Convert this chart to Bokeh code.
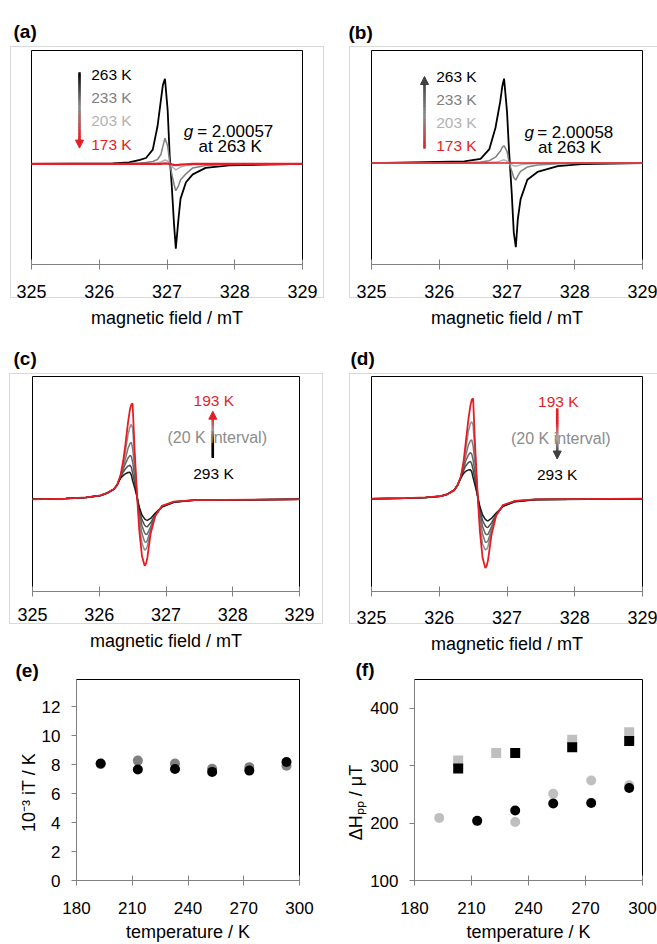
import math
from bokeh.plotting import figure
from bokeh.models import Range1d, FixedTicker, Label, Arrow, NormalHead
from bokeh.layouts import column, row
from bokeh.embed import file_html
from bokeh.resources import INLINE

FONT = "Liberation Sans"
RED = "#e41e26"
NB = "\u00a0"

# ----------------------------- data -----------------------------
FIELD_TICKS = [325, 326, 327, 328, 329]
TEMP_TICKS = [180, 210, 240, 270, 300]
E_YTICKS = [0, 2, 4, 6, 8, 10, 12]
F_YTICKS = [100, 200, 300, 400]

# (a) EPR spectra on cooling (arbitrary intensity units)
A_FIELD = [325.0, 326.2, 326.44, 326.6, 326.69, 326.79, 326.86, 326.91, 326.94, 326.97, 327.01,
           327.04, 327.07, 327.105, 327.13, 327.17, 327.2, 327.28, 327.38, 327.57, 327.92, 329.0]
A_263 = [0, 0.5, 1.5, 4, 6, 14.5, 38, 64.5, 80, 86, 54, 8, -22, -62, -85.5, -55, -35, -18.5, -10.5, -4, -1.5, 0]
A_233 = [0, 0, 0.5, 1, 1.5, 2.5, 4.5, 9.5, 18, 26, 18, 1.5, -10, -21, -27, -22, -16, -10, -4, -1.5, -0.5, 0]
A_203 = [0, 0, 0, 0, 0.3, 0.5, 1, 2, 3, 4, 3, 0.5, -2, -4.5, -6, -4.5, -3, -1.5, -0.7, -0.3, 0, 0]
A_173 = [0, 0, 0, 0, 0, 0, 0, 0, 0.3, 0.5, 0.3, 0, -0.5, -1, -1.2, -1, -0.6, -0.3, 0, 0, 0, 0]

# (b) EPR spectra on heating
B_FIELD = [325.0, 326.37, 326.61, 326.74, 326.83, 326.9, 326.93, 326.957, 327.0, 327.03, 327.07,
           327.1, 327.13, 327.16, 327.2, 327.3, 327.45, 327.75, 328.1, 329.0]
B_263 = [0, 1.7, 4.3, 14.3, 36, 62.7, 78, 86, 52.7, 12.7, -30.7, -70.7, -85.7, -57, -37, -17, -9, -3, -1, 0]
B_233 = [0, 0.3, 1, 2.5, 6, 12, 16, 17.7, 12, 1, -8, -15, -17.3, -13, -8.5, -4, -2, -0.7, -0.2, 0]
B_203 = [0, 0, 0.2, 0.5, 1, 2, 3, 3.3, 2, 0.3, -1.5, -2.8, -3.3, -2.6, -1.8, -0.8, -0.4, -0.1, 0, 0]
B_173 = [0] * 20

# (c) EPR spectra 293 K -> 193 K
C_FIELD = [325.0, 325.5, 325.8, 326.02, 326.12, 326.22, 326.27, 326.32, 326.36, 326.39, 326.43, 326.46, 326.48,
           326.50, 326.53, 326.57, 326.60, 326.64, 326.68, 326.70, 326.72, 326.77, 326.84, 326.94, 327.12, 327.42, 329.0]
C_193 = [0, 0.8, 2, 4, 6.5, 10.5, 15, 25, 40, 55, 78, 92, 97, 98, 50, 0, -32, -58, -68, -66, -60, -35, -16.7, -6.7, -2.3, -0.7, 0]
C_213 = [0, 0.8, 2, 4, 6.5, 10.5, 15, 24.5, 36, 48, 66, 74, 76.7, 73, 42, 0.5, -25, -45, -52, -51, -48, -33, -16.5, -6.8, -2.4, -0.7, 0]
C_233 = [0, 0.8, 2, 4, 6.5, 10.5, 15, 24, 33, 41, 52, 57, 58.4, 52, 33, 1, -19, -35, -43.5, -44, -42, -31, -16.3, -7, -2.5, -0.8, 0]
C_253 = [0, 0.8, 2, 4, 6.5, 10.5, 15, 23.5, 31, 36, 42, 45, 44, 38, 24, 1, -14, -27, -34.5, -36, -35.5, -28, -16, -7.3, -2.6, -0.8, 0]
C_273 = [0, 0.8, 2, 4, 6.5, 10.5, 15, 23, 28, 31, 34, 35, 33, 27, 17, 1, -11, -21, -26.5, -27.8, -28, -24, -15.5, -7.5, -2.8, -0.9, 0]
C_293 = [0, 0.8, 2, 4, 6.5, 10.5, 15, 21.7, 24.5, 26, 27.5, 27.7, 25, 19, 12, 1.5, -8, -16, -20, -21, -21.5, -19.5, -14, -7.8, -3, -1, 0]

# (d) EPR spectra 193 K -> 293 K
D_FIELD = [325.0, 325.5, 325.8, 326.02, 326.12, 326.22, 326.27, 326.32, 326.36, 326.39, 326.43, 326.46, 326.48,
           326.50, 326.53, 326.57, 326.60, 326.64, 326.68, 326.70, 326.72, 326.77, 326.84, 326.94, 327.12, 327.42, 329.0]
D_193 = [0, 0.5, 1.2, 2.5, 4.5, 8.5, 13.5, 22.6, 38, 56, 80, 94, 100, 101, 52, 0, -33, -60, -70, -68, -62, -37, -17, -6.5, -2.2, -0.7, 0]
D_213 = [0, 0.5, 1.2, 2.5, 4.5, 8.5, 13.5, 22.4, 35, 49, 68, 76, 77.6, 74, 43, 0.5, -26, -46, -51.7, -51, -48, -33.5, -16.7, -6.9, -2.4, -0.7, 0]
D_233 = [0, 0.5, 1.2, 2.5, 4.5, 8.5, 13.5, 22.2, 33, 43, 54, 58.5, 59.3, 53, 34, 1, -19.5, -36, -44, -44, -42.5, -31.5, -16.5, -7.1, -2.5, -0.8, 0]
D_253 = [0, 0.5, 1.2, 2.5, 4.5, 8.5, 13.5, 22, 31, 38, 44, 46.6, 45, 39, 25, 1, -15, -28, -35.5, -36.4, -36, -28.5, -16.3, -7.4, -2.7, -0.8, 0]
D_273 = [0, 0.5, 1.2, 2.5, 4.5, 8.5, 13.5, 21.5, 28.5, 33, 36.5, 37.6, 35, 29, 18, 1, -11.5, -22, -27.5, -28.8, -29, -24.5, -16, -7.7, -2.9, -0.9, 0]
D_293 = [0, 0.5, 1.2, 2.5, 4.5, 8.5, 13.5, 21, 25.5, 27.6, 29, 29.3, 27, 21, 13, 1.5, -8, -16.5, -21, -22, -22.4, -20, -14.5, -7.8, -3, -1, 0]

# (e) 10^-3 iT vs temperature
E_TEMP = [193, 213, 233, 253, 273, 293]
E_IT_GRAY = [8.05, 8.29, 8.09, 7.73, 7.84, 7.93]
E_IT_BLACK = [8.09, 7.67, 7.71, 7.51, 7.60, 8.20]

# (f) peak-to-peak line width vs temperature
F_SQ_GRAY_T = [203, 223, 263, 293]
F_SQ_GRAY = [309, 322, 345, 358]
F_SQ_BLACK_T = [203, 233, 263, 293]
F_SQ_BLACK = [295, 322, 332, 343]
F_CI_GRAY_T = [193, 213, 233, 253, 273, 293]
F_CI_GRAY = [209, 203, 202, 251, 274, 266]
F_CI_BLACK_T = [213, 233, 253, 273, 293]
F_CI_BLACK = [204, 222, 234, 235, 261]


# ----------------------------- helpers -----------------------------
def gray_box(lines):
    if not lines:
        return {}
    return {
        "background-image": ", ".join(["linear-gradient(#d9d9d9, #d9d9d9)"] * len(lines)),
        "background-position": ", ".join(f"{x}px {y}px" for x, y, w, h in lines),
        "background-size": ", ".join(f"{w}px {h}px" for x, y, w, h in lines),
        "background-repeat": "no-repeat",
    }


def panel(width, height, page_x0, page_y0, borders, xr, yr, letter, letter_left, letter_standoff,
          yaxis=False, box=None):
    bl, br, bt, bb = borders
    p = figure(width=width, height=height, x_range=Range1d(*xr), y_range=Range1d(*yr),
               min_border_left=bl, min_border_right=br, min_border_top=bt, min_border_bottom=bb,
               toolbar_location=None, output_backend="svg", title=letter,
               y_axis_location="left" if yaxis else None, styles=gray_box(box or []))
    p.xgrid.visible = False
    p.ygrid.visible = False
    p.outline_line_color = "black"
    p.outline_line_width = 1
    p.background_fill_color = "white"
    p.border_fill_color = None
    t = p.title
    t.text_font = FONT
    t.text_font_size = "19px"
    t.text_font_style = "bold"
    t.text_color = "black"
    t.align = "left"
    t.offset = letter_left - (page_x0 + bl)
    t.standoff = letter_standoff
    fx0, fx1 = page_x0 + bl, page_x0 + width - br
    fy0, fy1 = page_y0 + bt, page_y0 + height - bb

    def X(px):
        return xr[0] + (px - fx0) / (fx1 - fx0) * (xr[1] - xr[0])

    def Y(py):
        return yr[0] + (fy1 - py) / (fy1 - fy0) * (yr[1] - yr[0])
    return p, X, Y


def style_axis(ax, ticks, size, tin, tout, standoff, label=None, label_standoff=0):
    ax.ticker = FixedTicker(ticks=ticks)
    ax.minor_tick_line_color = None
    ax.major_tick_in = tin
    ax.major_tick_out = tout
    ax.axis_line_color = "#808080"
    ax.major_tick_line_color = "#808080"
    ax.major_label_text_font = FONT
    ax.major_label_text_font_size = size
    ax.major_label_text_color = "black"
    ax.major_label_standoff = standoff
    if label:
        ax.axis_label = label
        ax.axis_label_text_font = FONT
        ax.axis_label_text_font_size = "18px"
        ax.axis_label_text_font_style = "normal"
        ax.axis_label_text_color = "black"
        ax.axis_label_standoff = label_standoff


def txt(p, X, Y, px, py, s, size, color="black", align="left", style="normal"):
    p.add_layout(Label(x=X(px), y=Y(py), text=s, text_font=FONT, text_font_size=size,
                       text_color=color, text_align=align, text_baseline="middle",
                       text_font_style=style))


def hex2rgb(h):
    return tuple(int(h[i:i + 2], 16) for i in (1, 3, 5))


def mix(stops, t):
    n = len(stops) - 1
    k = min(int(t * n), n - 1)
    u = t * n - k
    a, b = hex2rgb(stops[k]), hex2rgb(stops[k + 1])
    return "#%02x%02x%02x" % tuple(round(a[i] + (b[i] - a[i]) * u) for i in range(3))


def grad_line(p, X, Y, px, py_a, py_b, stops, width=2.5, n=30):
    x0, y0, x1, y1, c = [], [], [], [], []
    for i in range(n):
        ta, tb = i / n, (i + 1) / n
        x0.append(X(px)); x1.append(X(px))
        y0.append(Y(py_a + (py_b - py_a) * ta))
        y1.append(Y(py_a + (py_b - py_a) * min(1.0, tb + 0.02)))
        c.append(mix(stops, (ta + tb) / 2))
    p.segment(x0=x0, y0=y0, x1=x1, y1=y1, line_color=c, line_width=width)


def head(p, X, Y, px, py_from, py_tip, color, size=8):
    p.add_layout(Arrow(end=NormalHead(size=size, fill_color=color, line_color=color, line_width=1),
                       x_start=X(px), y_start=Y(py_from), x_end=X(px), y_end=Y(py_tip), line_alpha=0))


T_SIZE = "15.5px"
G_SIZE = "17px"
TICK = "18px"
XLAB = "magnetic field / mT"

# ----------------------------- (a) -----------------------------
pa, Xa, Ya = panel(330, 330, 0, 0, (31, 28, 50, 64), (325, 329), (-101.5, 114.5), "(a)", 13, 17,
                   box=[(10, 46, 313, 1), (10, 297, 314, 1), (10, 46, 1, 251), (323, 46, 1, 252)])
style_axis(pa.xaxis[0], FIELD_TICKS, TICK, 5, 5, 15, XLAB, 7)
pa.line(A_FIELD, A_263, line_color="black", line_width=1.8)
pa.line(A_FIELD, A_233, line_color="#808080", line_width=1.5)
pa.line(A_FIELD, A_203, line_color="#b3b3b3", line_width=1.5)
pa.line(A_FIELD, A_173, line_color=RED, line_width=2.2)
txt(pa, Xa, Ya, 90.7, 74, "263 K", T_SIZE)
txt(pa, Xa, Ya, 90.7, 97.7, "233 K", T_SIZE, color="#808080")
txt(pa, Xa, Ya, 90.7, 121, "203 K", T_SIZE, color="#b3b3b3")
txt(pa, Xa, Ya, 90.7, 145, "173 K", T_SIZE, color=RED)
grad_line(pa, Xa, Ya, 79, 72, 141, ["#000000", "#8c8c8c", RED])
head(pa, Xa, Ya, 79, 139, 148.5, RED)
txt(pa, Xa, Ya, 183.3, 131.7, "g", G_SIZE, style="italic")
txt(pa, Xa, Ya, 196.7, 131.7, "= 2.00057", G_SIZE)
txt(pa, Xa, Ya, 229.7, 147.3, "at 263 K", G_SIZE, align="center")

# ----------------------------- (b) -----------------------------
pb, Xb, Yb = panel(327, 330, 330, 0, (41, 15, 48, 64), (325, 329), (-103.3, 114.7), "(b)", 348, 15,
                   box=[(19, 46, 308, 1), (19, 297, 308, 1), (19, 46, 1, 251)])
style_axis(pb.xaxis[0], FIELD_TICKS, TICK, 5, 5, 15, XLAB, 7)
pb.line(B_FIELD, B_263, line_color="black", line_width=1.8)
pb.line(B_FIELD, B_233, line_color="#808080", line_width=1.5)
pb.line(B_FIELD, B_203, line_color="#b3b3b3", line_width=1.5)
pb.line(B_FIELD, B_173, line_color=RED, line_width=1.5)
txt(pb, Xb, Yb, 435.7, 74, "263 K", T_SIZE)
txt(pb, Xb, Yb, 435.7, 97.7, "233 K", T_SIZE, color="#808080")
txt(pb, Xb, Yb, 435.7, 121, "203 K", T_SIZE, color="#b3b3b3")
txt(pb, Xb, Yb, 435.7, 145, "173 K", T_SIZE, color=RED)
grad_line(pb, Xb, Yb, 424, 148, 80, [RED, "#8c8c8c", "#404040"])
head(pb, Xb, Yb, 424, 84, 74.5, "#404040")
txt(pb, Xb, Yb, 524, 131.7, "g", G_SIZE, style="italic")
txt(pb, Xb, Yb, 536.7, 131.7, "= 2.00058", G_SIZE)
txt(pb, Xb, Yb, 569.2, 147.3, "at 263 K", G_SIZE, align="center")

# ----------------------------- (c) -----------------------------
GRAYS = ["#8f8f8f", "#7a7a7a", "#666666", "#4d4d4d"]
pc, Xc, Yc = panel(330, 326, 0, 330, (32, 31, 46, 60), (325, 329), (-94.3, 125.7), "(c)", 13, 15,
                   box=[(9, 43, 313, 1), (9, 293, 314, 1), (9, 43, 1, 250), (322, 43, 1, 251)])
style_axis(pc.xaxis[0], FIELD_TICKS, TICK, 5, 5, 11, XLAB, 7)
for ys, col in zip([C_213, C_233, C_253, C_273], GRAYS):
    pc.line(C_FIELD, ys, line_color=col, line_width=1.5)
pc.line(C_FIELD, C_293, line_color="#1a1a1a", line_width=1.5)
pc.line(C_FIELD, C_193, line_color=RED, line_width=1.8)
grad_line(pc, Xc, Yc, 212.3, 459.3, 417, ["#000000", "#000000", "#9a9a9a", RED])
head(pc, Xc, Yc, 212.3, 420, 411.5, RED)
txt(pc, Xc, Yc, 213.3, 401, "193 K", T_SIZE, color=RED, align="center")
txt(pc, Xc, Yc, 216.7, 438.3, "(20 K interval)", "16px", color="#8c8c8c", align="center")
txt(pc, Xc, Yc, 213, 475, "293 K", T_SIZE, align="center")

# ----------------------------- (d) -----------------------------
pd_, Xd, Yd = panel(327, 326, 330, 330, (41, 15, 46, 63), (325, 329), (-93.7, 123.3), "(d)", 350, 16,
                    box=[(19, 43, 308, 1), (19, 293, 308, 1), (19, 43, 1, 250)])
style_axis(pd_.xaxis[0], FIELD_TICKS, TICK, 5, 5, 14, XLAB, 7)
for ys, col in zip([D_213, D_233, D_253, D_273], GRAYS):
    pd_.line(D_FIELD, ys, line_color=col, line_width=1.5)
pd_.line(D_FIELD, D_293, line_color="#1a1a1a", line_width=1.5)
pd_.line(D_FIELD, D_193, line_color=RED, line_width=1.8)
grad_line(pd_, Xd, Yd, 556.7, 408, 453, [RED, RED, "#b0b0b0", "#404040"])
head(pd_, Xd, Yd, 556.7, 450, 459.3, "#404040")
txt(pd_, Xd, Yd, 557.8, 401, "193 K", T_SIZE, color=RED, align="center")
txt(pd_, Xd, Yd, 560.3, 438.3, "(20 K interval)", "16px", color="#8c8c8c", align="center")
txt(pd_, Xd, Yd, 556.7, 475, "293 K", T_SIZE, align="center")

# ----------------------------- (e) -----------------------------
pe, Xe, Ye = panel(330, 288, 0, 656, (76, 31, 23, 56), (180, 300), (0, 13.9), "(e)", 15, -3, yaxis=True)
style_axis(pe.xaxis[0], TEMP_TICKS, "17px", 5, 5, 16, "temperature / K", 5)
style_axis(pe.yaxis[0], E_YTICKS, "17px", 0, 5, 11, "10\u207b\u00b3 iT / K" + NB * 5, 0)
pe.scatter(E_TEMP, E_IT_GRAY, size=10, color="#808080", line_color=None)
pe.scatter(E_TEMP, E_IT_BLACK, size=10, color="black", line_color=None)

# ----------------------------- (f) -----------------------------
pf, Xf, Yf = panel(327, 288, 330, 656, (84, 15, 23, 56), (180, 300), (100, 450), "(f)", 355, -1, yaxis=True)
style_axis(pf.xaxis[0], TEMP_TICKS, "17px", 5, 5, 16, "temperature / K", 5)
style_axis(pf.yaxis[0], F_YTICKS, "17px", 0, 5, 11, "\u0394H\u209a\u209a / \u03bcT" + NB * 9, 1)
pf.scatter(F_SQ_GRAY_T, F_SQ_GRAY, marker="square", size=10, color="#bfbfbf", line_color=None)
pf.scatter(F_SQ_BLACK_T, F_SQ_BLACK, marker="square", size=10, color="black", line_color=None)
pf.scatter(F_CI_GRAY_T, F_CI_GRAY, size=10, color="#bfbfbf", line_color=None)
pf.scatter(F_CI_BLACK_T, F_CI_BLACK, size=10, color="black", line_color=None)

layout = column(row(pa, pb), row(pc, pd_), row(pe, pf))
open("out.html", "w").write(file_html(layout, INLINE))
